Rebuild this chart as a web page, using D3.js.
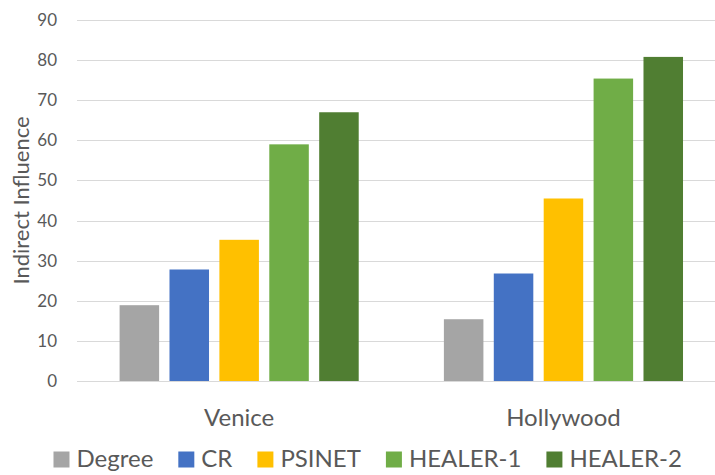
<!DOCTYPE html>
<html><head><meta charset="utf-8">
<script src="https://cdn.jsdelivr.net/npm/d3@7"></script>
<style>
html,body{margin:0;padding:0;background:#fff;}
svg{display:block;}
text{font-family:Lato, "Open Sans", sans-serif;fill:#595959;}
</style></head>
<body>
<svg id="chart" width="715" height="475"></svg>
<script>
const categories = ["Venice", "Hollywood"];
const seriesNames = ["Degree", "CR", "PSINET", "HEALER-1", "HEALER-2"];
const degree = [18.9, 15.4];
const cr = [27.8, 26.8];
const psinet = [35.2, 45.5];
const healer1 = [59.0, 75.4];
const healer2 = [67.0, 80.8];
const yTicks = [0, 10, 20, 30, 40, 50, 60, 70, 80, 90];
const colors = ["#A5A5A5", "#4472C4", "#FFC000", "#70AD47", "#507E32"];
const yTitle = "Indirect Influence";

const seriesValues = [degree, cr, psinet, healer1, healer2];

const svg = d3.select("#chart");
const x0 = d3.scaleBand().domain(categories).range([77, 725.6]).padding(0);
const bw = x0.bandwidth();
const inner = (bw - 249.5) / 2;
const x1 = d3.scaleBand().domain(seriesNames).range([inner, inner + 249.5]).paddingInner(0.208).paddingOuter(0.104);
const y = d3.scaleLinear().domain([0, 90]).range([381, 20]);
const color = d3.scaleOrdinal().domain(seriesNames).range(colors);

// gridlines
const yAxis = d3.axisLeft(y).tickValues(yTicks).tickSize(-(725.6 - 77)).tickPadding(20);
const gAxis = svg.append("g").attr("transform", "translate(77,0)").call(yAxis);
gAxis.select(".domain").remove();
gAxis.selectAll(".tick line").attr("stroke", "#D9D9D9").attr("stroke-width", 1)
  .attr("shape-rendering", "crispEdges");
gAxis.selectAll(".tick text").attr("font-size", 17).attr("fill", "#595959")
  .attr("font-family", "Lato, sans-serif").attr("x", -20);

// bars
const groups = svg.append("g").selectAll("g").data(categories).join("g")
  .attr("transform", d => `translate(${x0(d)},0)`);
groups.selectAll("rect")
  .data((c, ci) => seriesNames.map((s, si) => ({s, v: seriesValues[si][ci]})))
  .join("rect")
  .attr("x", d => x1(d.s))
  .attr("width", x1.bandwidth())
  .attr("y", d => y(d.v))
  .attr("height", d => y(0) - y(d.v))
  .attr("fill", d => color(d.s));

// baseline
svg.append("line").attr("x1", 77).attr("x2", 725.6).attr("y1", y(0)).attr("y2", y(0))
  .attr("stroke", "#D9D9D9").attr("stroke-width", 1).attr("shape-rendering", "crispEdges");

// category labels
const xAxis = d3.axisBottom(x0).tickSize(0).tickPadding(0);
const gx = svg.append("g").attr("transform", "translate(0,0)").call(xAxis);
gx.select(".domain").remove();
gx.selectAll(".tick text").attr("font-size", 24).attr("y", 426).attr("dy", 0)
  .attr("fill", "#595959").attr("font-family", "Lato, sans-serif");

// y title
svg.append("text").attr("transform", "translate(29,200.5) rotate(-90)")
  .attr("text-anchor", "middle").attr("font-size", 22).text(yTitle);

// legend
const legend = svg.append("g");
const items = legend.selectAll("g").data(seriesNames).join("g");
items.append("rect").attr("width", 16).attr("height", 16).attr("y", 451.5)
  .attr("fill", d => color(d));
items.append("text").attr("x", 23).attr("y", 467).attr("font-size", 24).text(d => d);
let widths = [];
items.each(function() { widths.push(23 + d3.select(this).select("text").node().getComputedTextLength()); });
const gap = 25;
const total = d3.sum(widths) + gap * (widths.length - 1);
let cx = 367.7 - total / 2;
items.each(function(d, i) {
  d3.select(this).attr("transform", `translate(${cx},0)`);
  cx += widths[i] + gap;
});
</script>
</body></html>
